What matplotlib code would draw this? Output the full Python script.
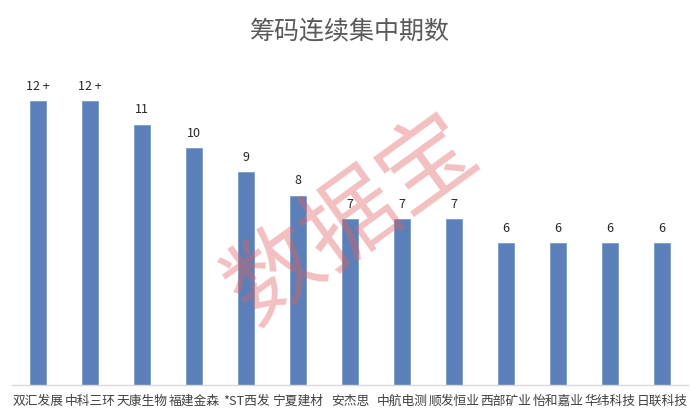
import matplotlib
matplotlib.use("Agg")
import matplotlib.pyplot as plt
import numpy as np

plt.rcParams['font.family'] = ['Noto Sans CJK SC', 'DejaVu Sans']

# ── データ ──────────────────────────────────────────────
names = ["双汇发展", "中科三环", "天康生物", "福建金森", "*ST西发", "宁夏建材", "安杰思",
         "中航电测", "顺发恒业", "西部矿业", "怡和嘉业", "华纬科技", "日联科技"]
periods = [12, 12, 11, 10, 9, 8, 7, 7, 7, 6, 6, 6, 6]
value_labels = ["12 +", "12 +", "11", "10", "9", "8", "7", "7", "7", "6", "6", "6", "6"]

fig = plt.figure(figsize=(7.0, 4.17), dpi=100)
ax = fig.add_axes([12 / 700, 32 / 417, 676 / 700, 330 / 417])

x = np.arange(len(names))
ax.bar(x, periods, width=0.32, color="#5b80b9", edgecolor="#7b9bcc", linewidth=0.6, zorder=2)

for xi, v, lab in zip(x, periods, value_labels):
    ax.annotate(lab, (xi, v), xytext=(0, 6), textcoords="offset points",
                ha="center", va="bottom", fontsize=9, color="#262626")

ax.set_xlim(-0.5, len(names) - 0.5)
ax.set_ylim(0, 13.94)
ax.set_yticks([])
ax.set_xticks(x)
ax.set_xticklabels(names, fontsize=9.2, color="#404040")
ax.tick_params(axis="x", length=0, pad=7)
for s in ["top", "right", "left"]:
    ax.spines[s].set_visible(False)
ax.spines["bottom"].set_color("#d9d9d9")
ax.spines["bottom"].set_linewidth(1.0)

fig.text(0.5, 1 - 31 / 417, "筹码连续集中期数", ha="center", va="center",
         fontsize=18, color="#595959")

# 水印
fig.text(352 / 700, 1 - 220 / 417, "数据宝", ha="center", va="center",
         rotation=36, fontsize=68, color="#e06060", alpha=0.4, zorder=10)

fig.savefig("out.png", dpi=100)
